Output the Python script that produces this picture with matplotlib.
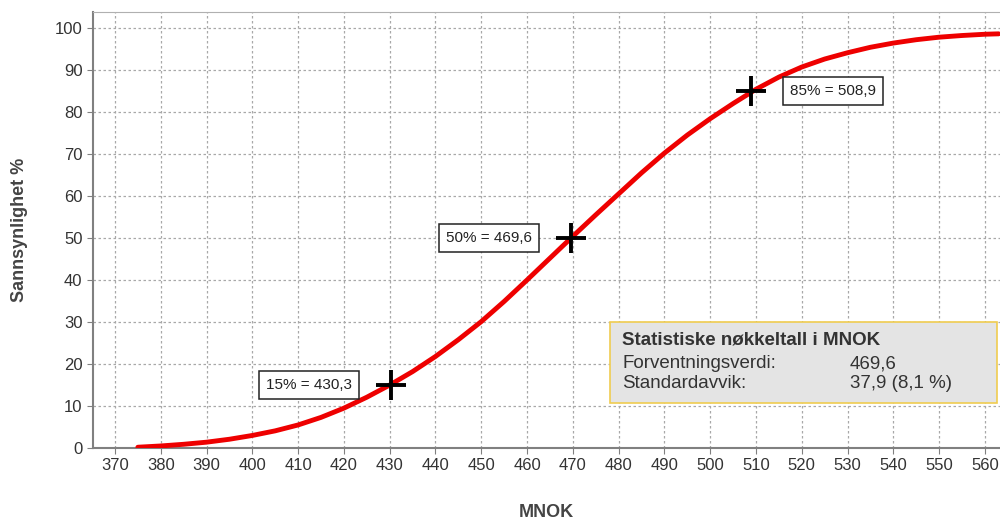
import matplotlib.pyplot as plt

plt.rcParams['font.family'] = ['Liberation Sans', 'DejaVu Sans']

# Kumulativ sannsynlighet (lest av figuren)
mnok = [375, 380, 385, 390, 395, 400, 405, 410, 415, 420, 425, 430, 435, 440,
        445, 450, 455, 460, 465, 470, 475, 480, 485, 490, 495, 500, 505, 510,
        515, 520, 525, 530, 535, 540, 545, 550, 555, 560, 563]
prob = [0.2, 0.5, 0.9, 1.4, 2.1, 3.0, 4.1, 5.5, 7.3, 9.5, 12.1, 15.0, 18.2, 21.8,
        25.8, 30.1, 34.9, 40.0, 45.2, 50.4, 55.5, 60.5, 65.5, 70.2, 74.5, 78.4, 82.0, 85.4,
        88.3, 90.7, 92.6, 94.1, 95.4, 96.4, 97.2, 97.8, 98.2, 98.5, 98.6]

pct_levels = [15, 50, 85]
pct_values = [430.3, 469.6, 508.9]
pct_labels = ['15% = 430,3', '50% = 469,6', '85% = 508,9']
label_side = ['left', 'left', 'right']

stats_title = 'Statistiske nøkkeltall i MNOK'
stats_names = ['Forventningsverdi:', 'Standardavvik:']
stats_vals = ['469,6', '37,9 (8,1 %)']

fig = plt.figure(figsize=(10, 5.21), dpi=100)
ax = fig.add_axes([0.093, 0.140, 0.907, 0.837])

ax.plot(mnok, prob, color='#ee0000', linewidth=3.5, solid_capstyle='round', zorder=3)

ax.set_xlim(365.2, 563.3)
ax.set_ylim(0, 103.8)
ax.set_xticks(range(370, 561, 10))
ax.set_yticks(range(0, 101, 10))
ax.grid(True, color='#a8a8a8', linestyle=(0, (2, 2)), linewidth=0.9)
ax.set_axisbelow(True)
for s in ['left', 'bottom']:
    ax.spines[s].set_color('#808080')
    ax.spines[s].set_linewidth(1.5)
ax.spines['top'].set_color('#b0b0b0')
ax.spines['right'].set_visible(False)
ax.tick_params(axis='both', colors='#808080', labelcolor='#333333', labelsize=12, length=4)

ax.set_xlabel('MNOK', fontsize=13, fontweight='bold', color='#444444', labelpad=22)
ax.set_ylabel('Sannsynlighet %', fontsize=13, fontweight='bold', color='#444444', labelpad=19)

for lvl, val, lab, side in zip(pct_levels, pct_values, pct_labels, label_side):
    ax.plot([val], [lvl], marker='+', color='black', markersize=21, mew=2.8, zorder=5)
    dx = -39 if side == 'left' else 39
    ax.annotate(lab, xy=(val, lvl), xytext=(dx, 0), textcoords='offset pixels',
                ha='right' if side == 'left' else 'left', va='center', fontsize=11, color='#222222',
                bbox=dict(boxstyle='square,pad=0.45', fc='white', ec='#222222', lw=1.1), zorder=6)

# Statistikkboks
fig.patches.append(plt.Rectangle((0.610, 1 - 403 / 521), 0.387, 81 / 521, transform=fig.transFigure,
                                 facecolor='#e4e4e4', edgecolor='#f0cc50', linewidth=1.2, zorder=10))
fig.text(0.622, 1 - 340 / 521, stats_title, fontsize=13.5, fontweight='bold', color='#333333',
         va='center', zorder=11)
for i, (n, v) in enumerate(zip(stats_names, stats_vals)):
    y = 1 - (364 + 20 * i) / 521
    fig.text(0.622, y, n, fontsize=13.5, color='#333333', va='center', zorder=11)
    fig.text(0.850, y, v, fontsize=13.5, color='#333333', va='center', zorder=11)

plt.savefig('out.png', dpi=100)
